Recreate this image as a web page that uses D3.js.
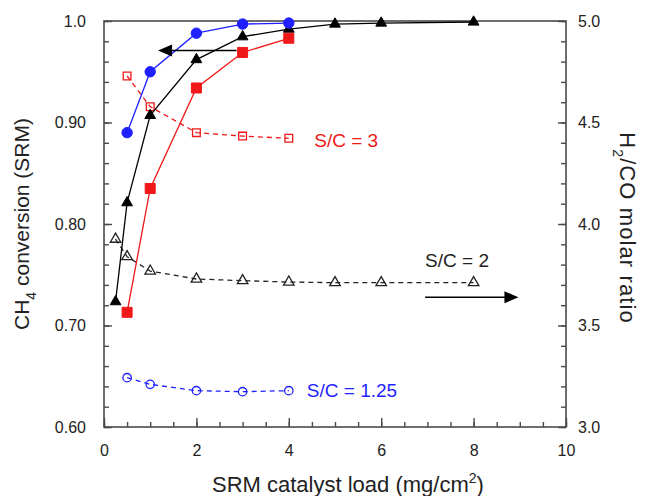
<!DOCTYPE html>
<html>
<head>
<meta charset="utf-8">
<script src="https://cdn.jsdelivr.net/npm/d3@7"></script>
<style>
  body { margin: 0; background: #fff; }
  svg { display: block; font-family: "Liberation Sans", Arial, sans-serif; }
</style>
</head>
<body>
<svg id="chart" width="654" height="496"></svg>
<script>
// ---- data ----
const loadSC125 = [0.5, 1, 2, 3, 4];
const convSC125 = [0.890, 0.950, 0.988, 0.997, 0.998];
const ratioSC125 = [3.243, 3.210, 3.179, 3.174, 3.179];

const loadSC2 = [0.25, 0.5, 1, 2, 3, 4, 5, 6, 8];
const convSC2 = [0.7235, 0.821, 0.907, 0.962, 0.9845, 0.992, 0.997, 0.998, 0.999];
const ratioSC2 = [3.925, 3.839, 3.768, 3.729, 3.721, 3.714, 3.711, 3.711, 3.711];

const loadSC3 = [0.5, 1, 2, 3, 4];
const convSC3 = [0.713, 0.835, 0.934, 0.969, 0.983];
const ratioSC3 = [4.729, 4.578, 4.450, 4.433, 4.422];

const xTickLabels = ["0", "2", "4", "6", "8", "10"];
const yLeftTickLabels = ["0.60", "0.70", "0.80", "0.90", "1.0"];
const yRightTickLabels = ["3.0", "3.5", "4.0", "4.5", "5.0"];

// ---- layout ----
const svg = d3.select("#chart");
const L = 104, T = 21, R = 566, B = 427;
const x = d3.scaleLinear().domain([0, 10]).range([L, R]);
const yL = d3.scaleLinear().domain([0.6, 1.0]).range([B, T]);
const yR = d3.scaleLinear().domain([3.0, 5.0]).range([B, T]);

const axisCol = "#4a4a4a", textCol = "#222";
const blue = "#1f1fff", red = "#f01818", black = "#000";

// frame
svg.append("rect").attr("x", L).attr("y", T).attr("width", R - L).attr("height", B - T)
  .attr("fill", "none").attr("stroke", axisCol).attr("stroke-width", 1.6);

// axes with inward ticks
const xMinor = d3.range(0, 10.001, 0.5);
svg.append("g").attr("transform", `translate(0,${B})`)
  .call(d3.axisTop(x).tickValues(xMinor).tickSize(5).tickFormat(""));
svg.append("g").attr("transform", `translate(0,${B})`)
  .call(d3.axisTop(x).tickValues(xTickLabels.map(Number)).tickSize(9).tickFormat(""));
svg.append("g").attr("transform", `translate(0,${B})`)
  .call(d3.axisBottom(x).tickValues(xTickLabels.map(Number)).tickSize(0).tickPadding(18)
    .tickFormat((d, i) => xTickLabels[i]));

svg.append("g").attr("transform", `translate(${L},0)`)
  .call(d3.axisRight(yL).tickValues(d3.range(0.6, 1.0001, 0.02)).tickSize(5).tickFormat(""));
svg.append("g").attr("transform", `translate(${L},0)`)
  .call(d3.axisRight(yL).tickValues(yLeftTickLabels.map(Number)).tickSize(8).tickFormat(""));
svg.append("g").attr("transform", `translate(${L},0)`)
  .call(d3.axisLeft(yL).tickValues(yLeftTickLabels.map(Number)).tickSize(0).tickPadding(18)
    .tickFormat((d, i) => yLeftTickLabels[i]));

svg.append("g").attr("transform", `translate(${R},0)`)
  .call(d3.axisLeft(yR).tickValues(d3.range(3.0, 5.0001, 0.1)).tickSize(5).tickFormat(""));
svg.append("g").attr("transform", `translate(${R},0)`)
  .call(d3.axisLeft(yR).tickValues(yRightTickLabels.map(Number)).tickSize(8).tickFormat(""));
svg.append("g").attr("transform", `translate(${R},0)`)
  .call(d3.axisRight(yR).tickValues(yRightTickLabels.map(Number)).tickSize(0).tickPadding(12)
    .tickFormat((d, i) => yRightTickLabels[i]));

svg.selectAll(".domain").remove();
svg.selectAll(".tick line").attr("stroke", axisCol).attr("stroke-width", 1.4);
svg.selectAll(".tick text").attr("fill", textCol).attr("font-size", 16)
  .attr("font-family", "'Liberation Sans', Arial, sans-serif");

// axis titles
const xt = svg.append("text").attr("x", 212).attr("y", 492).attr("text-anchor", "start")
  .attr("font-size", 22).attr("fill", textCol);
xt.append("tspan").text("SRM catalyst load (mg/cm");
xt.append("tspan").attr("font-size", 14).attr("dy", -9).text("2");
xt.append("tspan").attr("dy", 9).text(")");

const ylt = svg.append("text").attr("transform", `translate(29,${(T + B) / 2}) rotate(-90)`)
  .attr("text-anchor", "middle").attr("font-size", 21).attr("fill", textCol);
ylt.append("tspan").text("CH");
ylt.append("tspan").attr("font-size", 14).attr("dy", 7).text("4");
ylt.append("tspan").attr("dy", -7).text(" conversion (SRM)");

const yrt = svg.append("text").attr("transform", `translate(620,${(T + B) / 2 + 4}) rotate(90)`)
  .attr("text-anchor", "middle").attr("font-size", 22).attr("letter-spacing", 1.1).attr("fill", textCol);
yrt.append("tspan").text("H");
yrt.append("tspan").attr("font-size", 14).attr("dy", 7).text("2");
yrt.append("tspan").attr("dy", -7).text("/CO molar ratio");

// ---- series ----
function series(xs, ys, yScale, color, dashed, symbolType, size, filled) {
  const pts = xs.map((d, i) => [x(d), yScale(ys[i])]);
  svg.append("path").attr("d", d3.line()(pts)).attr("fill", "none")
    .attr("stroke", color).attr("stroke-width", 1.3)
    .attr("stroke-dasharray", dashed ? "5,4" : null);
  svg.append("g").selectAll("path").data(pts).join("path")
    .attr("transform", d => `translate(${d[0]},${d[1]})`)
    .attr("d", d3.symbol().type(symbolType).size(size))
    .attr("fill", filled ? color : "none")
    .attr("stroke", color).attr("stroke-width", filled ? 1 : 1.3);
}

// H2/CO ratios (open symbols, dashed)
series(loadSC3, ratioSC3, yR, red, true, d3.symbolSquare, 60, false);
series(loadSC2, ratioSC2, yR, "#222", true, d3.symbolTriangle, 48, false);
series(loadSC125, ratioSC125, yR, blue, true, d3.symbolCircle, 55, false);

// conversions (filled symbols, solid)
series(loadSC2, convSC2, yL, black, false, d3.symbolTriangle, 50, true);
series(loadSC3, convSC3, yL, red, false, d3.symbolSquare, 100, true);
series(loadSC125, convSC125, yL, blue, false, d3.symbolCircle, 85, true);

// ---- annotations ----
function arrow(x0, x1, yPix) {
  const a = x(x0), b = x(x1), dir = Math.sign(b - a);
  const headLen = 14, headHalf = 6;
  svg.append("line").attr("x1", a).attr("x2", b - dir * headLen * 0.6).attr("y1", yPix).attr("y2", yPix)
    .attr("stroke", black).attr("stroke-width", 1.5);
  svg.append("path")
    .attr("d", `M${b},${yPix} L${b - dir * headLen},${yPix - headHalf} L${b - dir * headLen},${yPix + headHalf} Z`)
    .attr("fill", black);
}
arrow(2.87, 1.17, yL(0.971));
arrow(6.95, 8.97, yR(3.639));

svg.append("text").attr("x", x(4.55)).attr("y", yR(4.381)).attr("font-size", 19)
  .attr("fill", red).text("S/C = 3");
svg.append("text").attr("x", x(6.95)).attr("y", yR(3.790)).attr("font-size", 19)
  .attr("fill", "#222").text("S/C = 2");
svg.append("text").attr("x", x(4.39)).attr("y", yR(3.146)).attr("font-size", 19)
  .attr("fill", blue).text("S/C = 1.25");
</script>
</body>
</html>
